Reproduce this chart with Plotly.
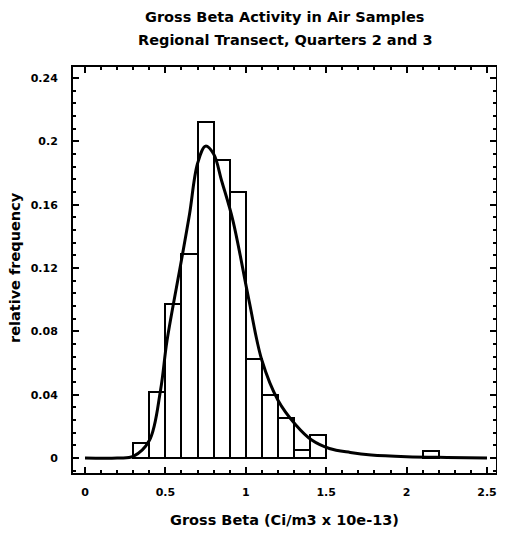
import plotly.graph_objects as go

# histogram bins (left edges) and relative frequencies
bin_left = [0.3, 0.4, 0.5, 0.6, 0.7, 0.8, 0.9, 1.0, 1.1, 1.2, 1.3, 1.4, 2.1]
rel_freq = [0.0093, 0.0418, 0.097, 0.129, 0.212, 0.188, 0.168, 0.0628, 0.0397, 0.025, 0.005, 0.0145, 0.0046]
bin_width = 0.1

# fitted curve
curve_x = [0.0, 0.2, 0.3, 0.4, 0.47, 0.51, 0.6, 0.65, 0.7, 0.75, 0.8, 0.85, 0.92,
           1.02, 1.1, 1.2, 1.31, 1.41, 1.52, 1.65, 1.78, 2.0, 2.25, 2.5]
curve_y = [0.0, 0.0, 0.001, 0.011, 0.043, 0.074, 0.125, 0.154, 0.186, 0.197, 0.192,
           0.175, 0.150, 0.0995, 0.0617, 0.0365, 0.021, 0.0113, 0.006, 0.0035,
           0.0019, 0.0008, 0.0003, 0.0]

y_ticks = [0, 0.04, 0.08, 0.12, 0.16, 0.2, 0.24]
x_ticks = [0, 0.5, 1, 1.5, 2, 2.5]

title_lines = ["Gross Beta Activity in Air Samples", "Regional Transect, Quarters 2 and 3"]
x_title = "Gross Beta (Ci/m3 x 10e-13)"
y_title = "relative frequency"

FONT = "DejaVu Sans"
# page body has an 8px margin and the right strip gets clipped, keep it narrow
W, H = 489, 523
L, R, T, B = 65, 1, 59, 58
PH = H - T - B
PW = W - L - R

fig = go.Figure()
fig.add_trace(go.Bar(
    x=[b + bin_width / 2 for b in bin_left],
    y=rel_freq,
    width=bin_width,
    marker=dict(color="white", line=dict(color="black", width=2)),
    showlegend=False,
))
fig.add_trace(go.Scatter(
    x=curve_x, y=curve_y,
    mode="lines",
    line=dict(color="black", width=3, shape="spline"),
    showlegend=False,
))

# two-line title, centred on the plot
for i, line in enumerate(title_lines):
    fig.add_annotation(
        text="<b>%s</b>" % line,
        xref="paper", yref="paper",
        x=0.5, y=1.0 + (50 - 23 * i) / PH,
        xanchor="center", yanchor="middle",
        showarrow=False,
        font=dict(family=FONT, size=14.5, color="black"),
    )

# axis titles
fig.add_annotation(
    text="<b>%s</b>" % x_title,
    xref="paper", yref="paper", x=0.5, y=-47.0 / PH,
    xanchor="center", yanchor="middle", showarrow=False,
    font=dict(family=FONT, size=14.5, color="black"),
)
fig.add_annotation(
    text="<b>%s</b>" % y_title,
    xref="paper", yref="paper", x=-(L - 7.0) / PW, y=0.505,
    xanchor="center", yanchor="middle", showarrow=False, textangle=-90,
    font=dict(family=FONT, size=14.5, color="black"),
)

fig.update_layout(
    width=W, height=H,
    margin=dict(l=L, r=R, t=T, b=B, autoexpand=False),
    plot_bgcolor="white",
    paper_bgcolor="white",
    font=dict(family=FONT, size=11, color="black"),
    bargap=0,
)
fig.update_xaxes(
    range=[-0.0746, 2.556],
    tickvals=x_ticks,
    ticktext=["<b>%g</b>" % v for v in x_ticks],
    ticks="inside", ticklen=6, tickwidth=2, tickcolor="black",
    minor=dict(dtick=0.1, ticks="inside", ticklen=3, tickwidth=1.5, tickcolor="black"),
    showline=True, linecolor="black", linewidth=2, mirror="allticks",
    showgrid=False, zeroline=False, automargin=False,
    ticklabelstandoff=8,
)
fig.update_yaxes(
    range=[-0.0095, 0.247],
    tickvals=y_ticks,
    ticktext=["<b>%g</b>" % v for v in y_ticks],
    ticks="inside", ticklen=6, tickwidth=2, tickcolor="black",
    minor=dict(dtick=0.008, ticks="inside", ticklen=3, tickwidth=1.5, tickcolor="black"),
    showline=True, linecolor="black", linewidth=2, mirror="allticks",
    showgrid=False, zeroline=False, automargin=False,
    ticklabelstandoff=11,
)

fig.write_html("out.html")
